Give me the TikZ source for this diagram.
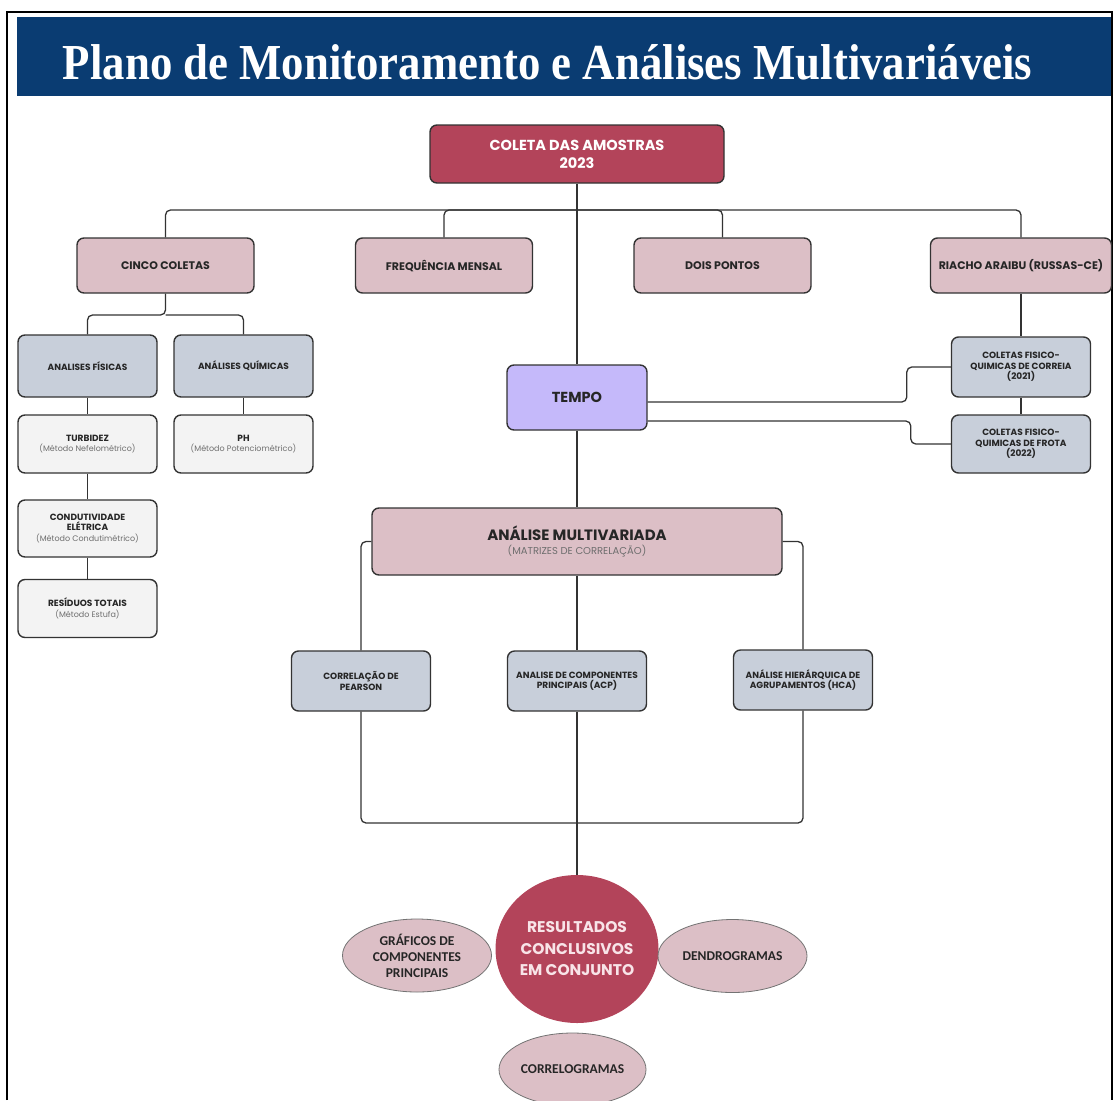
\documentclass[tikz,border=0pt]{standalone}
\usepackage{fontspec}
\usepackage{graphicx}
\setmainfont{Poppins}
\newfontfamily\titlefont{Liberation Serif}
\newfontfamily\ovalfont{Carlito}
\usetikzlibrary{shapes.geometric,positioning}

\definecolor{navy}{HTML}{0A3C72}
\definecolor{rosedark}{HTML}{B3445A}
\definecolor{rosebox}{HTML}{DCBFC6}
\definecolor{slatebox}{HTML}{C8CFDA}
\definecolor{greybox}{HTML}{F3F3F3}
\definecolor{lilac}{HTML}{C5B9FA}
\definecolor{subgrey}{HTML}{6E6E6E}
\definecolor{edge}{HTML}{333333}
\definecolor{paletext}{HTML}{F8E4E8}

\newcommand{\subtxt}[1]{{\mdseries\color{subgrey}\fontsize{8}{10}\selectfont #1}}

\tikzset{
  box/.style={draw=edge, line width=1.4pt, rounded corners=7pt, align=center,
    inner sep=0pt, text=black!85, font=\bfseries\fontsize{9}{10.5}\selectfont},
  redbox/.style={box, fill=rosedark, text=white, font=\bfseries\fontsize{14.5}{18}\selectfont},
  pinkbox/.style={box, fill=rosebox, minimum width=177pt, minimum height=55pt, font=\bfseries\fontsize{11}{13}\selectfont},
  slatebox/.style={box, fill=slatebox, minimum width=139pt, minimum height=60pt},
  greybox/.style={box, fill=greybox, minimum width=139pt, minimum height=58pt},
  oval/.style={ellipse, draw=black!55, line width=0.8pt, fill=rosebox, inner sep=0pt,
    align=center, minimum width=149pt, minimum height=73pt, text=black!85,
    font=\ovalfont\bfseries\fontsize{13.5}{16}\selectfont},
  link/.style={draw=edge, line width=1.3pt, rounded corners=5pt},
}

\begin{document}
\begin{tikzpicture}[x=1pt,y=-1pt]
\useasboundingbox (0,0) rectangle (1115,1100);

% frame and heading
\draw[line width=2pt] (7,1100) -- (7,12) -- (1112,12) -- (1112,1100);
\fill[navy] (17,17) rectangle (1111,96);
\node[anchor=base, text=white, inner sep=0pt] (title) at (547.5,79)
  {\resizebox{969pt}{35pt}{\titlefont\bfseries Plano de Monitoramento e Análises Multivariáveis}};

% first level
\node[redbox, minimum width=294pt, minimum height=58pt] (coleta) at (577,154) {COLETA DAS AMOSTRAS\\2023};

\node[pinkbox] (cinco) at (165.5,265.5) {CINCO COLETAS};
\node[pinkbox] (freq) at (444,265.5) {FREQUÊNCIA MENSAL};
\node[pinkbox] (dois) at (722.5,265.5) {DOIS PONTOS};
\node[pinkbox, minimum width=181pt] (riacho) at (1021,265.5) {RIACHO ARAIBU (RUSSAS-CE)};

% analyses under the five samplings
\node[slatebox, minimum height=62pt] (fis) at (87.5,366) {ANALISES FÍSICAS};
\node[slatebox, minimum height=62pt] (qui) at (243.5,366) {ANÁLISES QUÍMICAS};
\node[greybox] (turb) at (87.5,444) {TURBIDEZ\\\subtxt{(Método Nefelométrico)}};
\node[greybox] (ph) at (243.5,444) {PH\\\subtxt{(Método Potenciométrico)}};
\node[greybox, minimum height=57pt] (cond) at (87.5,528.5) {CONDUTIVIDADE\\ELÉTRICA\\\subtxt{(Método Condutimétrico)}};
\node[greybox] (res) at (87.5,608.5) {RESÍDUOS TOTAIS\\\subtxt{(Método Estufa)}};

% time axis
\node[box, fill=lilac, minimum width=140pt, minimum height=65pt, font=\bfseries\fontsize{14.5}{17}\selectfont] (tempo) at (577,397.5) {TEMPO};
\node[slatebox] (correia) at (1021,367) {COLETAS FISICO-\\QUIMICAS DE CORREIA\\(2021)};
\node[slatebox, minimum height=58pt] (frota) at (1021,444) {COLETAS FISICO-\\QUIMICAS DE FROTA\\(2022)};

% multivariate part
\node[box, fill=rosebox, minimum width=410pt, minimum height=67pt, font=\bfseries\fontsize{15}{17}\selectfont] (multi) at (577,541.5)
  {ANÁLISE MULTIVARIADA\\[-3pt]{\mdseries\color{subgrey}\fontsize{10}{12}\selectfont (MATRIZES DE CORRELAÇÃO)}};
\node[slatebox] (pearson) at (361,681) {CORRELAÇÃO DE\\PEARSON};
\node[slatebox] (acp) at (577,681) {ANALISE DE COMPONENTES\\PRINCIPAIS (ACP)};
\node[slatebox] (hca) at (803,680) {ANÁLISE HIERÁRQUICA DE\\AGRUPAMENTOS (HCA)};

% results
\node[ellipse, fill=rosedark, inner sep=0pt, minimum width=163pt, minimum height=148pt, align=center,
  text=paletext, font=\bfseries\fontsize{15.5}{21.5}\selectfont] (result) at (577,949) {RESULTADOS\\CONCLUSIVOS\\EM CONJUNTO};
\node[oval] (graf) at (417,955.5) {GRÁFICOS DE\\COMPONENTES\\PRINCIPAIS};
\node[oval] (dendro) at (732.5,956) {DENDROGRAMAS};
\node[oval, minimum width=147pt] (correlo) at (572.5,1069.5) {CORRELOGRAMAS};

% connectors
\coordinate (bus) at (577,210);
\coordinate (forkA) at (165.5,315);
\coordinate (join) at (577,823);

\draw[link] (coleta.south) -- (tempo.north);
\draw[link] (bus) -| (cinco.north);
\draw[link] (bus) -| (freq.north);
\draw[link] (bus) -| (dois.north);
\draw[link] (bus) -| (riacho.north);

\draw[link] (cinco.south) -- (forkA) -| (fis.north);
\draw[link] (forkA) -| (qui.north);
\draw[link] (fis.south) -- (turb.north);
\draw[link] (turb.south) -- (cond.north);
\draw[link] (cond.south) -- (res.north);
\draw[link] (qui.south) -- (ph.north);

\draw[link] (riacho.south) -- (correia.north);
\draw[link] (correia.south) -- (frota.north);
\draw[link] ([yshift=-4.5pt]tempo.east) -| ([xshift=-44pt]correia.west) -- (correia.west);
\draw[link] ([yshift=-23.5pt]tempo.east) -| ([xshift=-40pt]frota.west) -- (frota.west);

\draw[link] (tempo.south) -- (multi.north);
\draw[link] (multi.west) -| (pearson.north);
\draw[link] (multi.south) -- (acp.north);
\draw[link] (multi.east) -| (hca.north);

\draw[link] (pearson.south) |- (join);
\draw[link] (hca.south) |- (join);
\draw[link] (acp.south) -- (join) -- (result.north);

\end{tikzpicture}
\end{document}
